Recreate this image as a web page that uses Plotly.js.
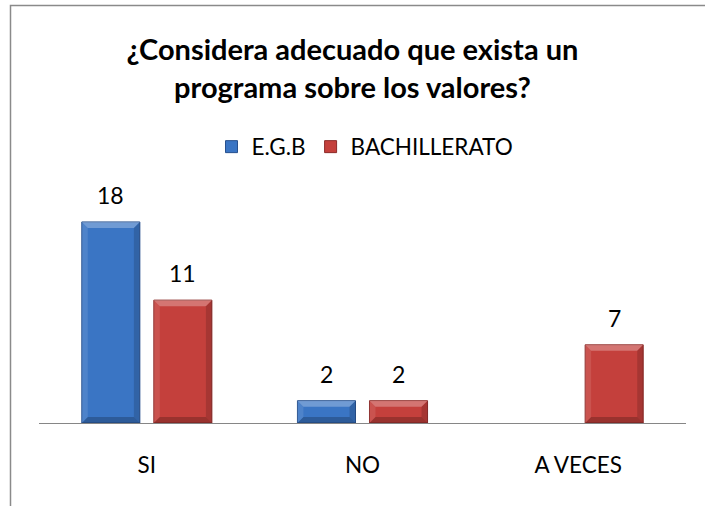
<!DOCTYPE html>
<html><head><meta charset="utf-8">
<script src="https://cdn.plot.ly/plotly-3.0.1.min.js"></script>
<style>html,body{margin:0;padding:0;background:#fff}#chart{width:705px;height:506px}</style>
</head><body><div id="chart"></div>
<script>
const categories = ['SI', 'NO', 'A VECES'];
const egb = [18, 2, null];
const bachillerato = [11, 2, 7];
const seriesNames = ['E.G.B', 'BACHILLERATO'];
const titleText = '¿Considera adecuado que exista un<br>programa sobre los valores?';

const W = 705, H = 506;
const px = x => x / W;
const py = y => 1 - y / H;
const FONT = 'Lato, "Open Sans", sans-serif';
const bargap = 0.332, bargroupgap = 0.194;
const off = (1 - bargap) / 4;
const halfBar = (1 - bargap) / 2 * (1 - bargroupgap) / 2;
const yMax = 20;
const xDomPx = [39, 686], yDomPx = [423, 199.6];
const catPx = (xDomPx[1] - xDomPx[0]) / categories.length;
const unitPx = (yDomPx[0] - yDomPx[1]) / yMax;
const bevX = 6 / catPx, bevY = 6 / unitPx;

const traces = [
  {type: 'bar', name: seriesNames[0], x: categories, y: egb,
   marker: {color: '#3a75c4', line: {color: '#27508e', width: 1}}, hoverinfo: 'y'},
  {type: 'bar', name: seriesNames[1], x: categories, y: bachillerato,
   marker: {color: '#c4403c', line: {color: '#8c2b29', width: 1}}, hoverinfo: 'y'}
];

const annotations = [];
const bevels = [];
function poly(pts, color) {
  return {type: 'path', xref: 'x', yref: 'y', layer: 'above',
    path: 'M' + pts.map(p => p[0] + ',' + p[1]).join('L') + 'Z',
    fillcolor: color, line: {width: 0}};
}
[egb, bachillerato].forEach((vals, si) => {
  vals.forEach((v, ci) => {
    if (v === null) return;
    const c = ci + (si === 0 ? -off : off);
    annotations.push({x: c, y: v, xref: 'x', yref: 'y',
      text: String(v), showarrow: false, yanchor: 'middle', yshift: 27,
      font: {family: FONT, size: 23, color: '#000'}});
    const x0 = c - halfBar, x1 = c + halfBar;
    bevels.push(poly([[x0, v], [x1, v], [x1 - bevX, v - bevY], [x0 + bevX, v - bevY]], 'rgba(255,255,255,0.28)'));
    bevels.push(poly([[x0, 0], [x1, 0], [x1 - bevX, bevY], [x0 + bevX, bevY]], 'rgba(0,0,0,0.22)'));
    bevels.push(poly([[x0, 0], [x0, v], [x0 + bevX, v - bevY], [x0 + bevX, bevY]], 'rgba(255,255,255,0.10)'));
    bevels.push(poly([[x1, 0], [x1, v], [x1 - bevX, v - bevY], [x1 - bevX, bevY]], 'rgba(0,0,0,0.15)'));
  });
});

const layout = {
  width: W, height: H,
  margin: {l: 0, r: 0, t: 0, b: 0},
  paper_bgcolor: '#fff', plot_bgcolor: '#fff',
  barmode: 'group', bargap: bargap, bargroupgap: bargroupgap,
  title: {text: '<b>' + titleText + '</b>', x: 0.5, xref: 'paper', xanchor: 'center',
    y: py(60), yref: 'paper', yanchor: 'middle',
    font: {family: FONT, size: 29, color: '#000'}},
  showlegend: true,
  legend: {orientation: 'h', x: px(365), xanchor: 'center', y: py(147), yanchor: 'middle',
    font: {family: FONT, size: 22.5, color: '#000'}, bgcolor: 'rgba(0,0,0,0)'},
  xaxis: {domain: [px(xDomPx[0]), px(xDomPx[1])], type: 'category', showgrid: false, zeroline: false,
    showline: true, linecolor: '#868686', linewidth: 1,
    ticks: 'outside', ticklen: 22, tickcolor: 'rgba(0,0,0,0)',
    tickfont: {family: FONT, size: 22.5, color: '#000'}, fixedrange: true},
  yaxis: {domain: [py(yDomPx[0]), py(yDomPx[1])], range: [0, yMax], visible: false, fixedrange: true},
  annotations: annotations,
  shapes: [{type: 'rect', xref: 'paper', yref: 'paper', x0: px(10.5), x1: 1.2, y0: -0.2, y1: py(5.5),
    line: {color: '#8a8a8a', width: 1.5}, fillcolor: 'rgba(0,0,0,0)'}].concat(bevels)
};

Plotly.newPlot('chart', traces, layout, {displayModeBar: false, staticPlot: true});
</script>
</body></html>
